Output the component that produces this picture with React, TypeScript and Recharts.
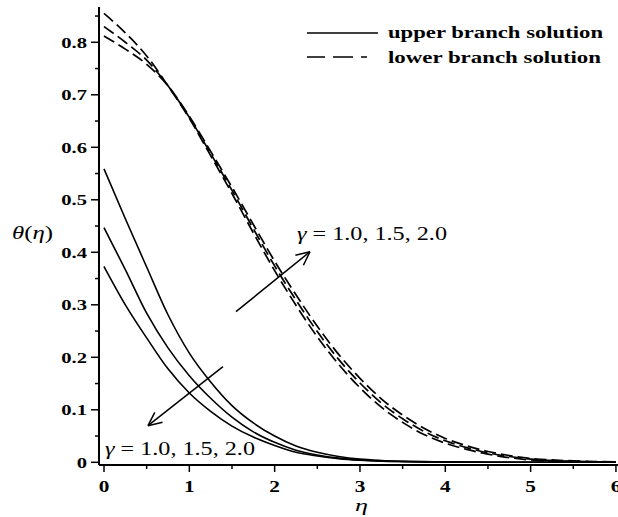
import React from 'react';
import { LineChart, Line, XAxis, YAxis, ReferenceLine, Legend, Customized } from 'recharts';

// ---- data ----
const etaValues = [0, 0.25, 0.5, 0.75, 1, 1.25, 1.5, 1.75, 2, 2.25, 2.5, 2.75, 3, 3.25, 3.5, 3.75, 4, 4.25, 4.5, 4.75, 5, 5.5, 6];

// upper branch (solid)
const upperGamma10 = [0.559, 0.464, 0.372, 0.281, 0.208, 0.153, 0.108, 0.075, 0.050, 0.031, 0.019, 0.011, 0.006, 0.0035, 0.002, 0.0012, 0.0007, 0.0004, 0.0002, 0.0001, 0.0001, 0, 0];
const upperGamma15 = [0.447, 0.367, 0.284, 0.218, 0.165, 0.122, 0.086, 0.058, 0.038, 0.023, 0.014, 0.008, 0.0045, 0.0025, 0.0015, 0.0009, 0.0005, 0.0003, 0.0002, 0.0001, 0, 0, 0];
const upperGamma20 = [0.373, 0.300, 0.237, 0.178, 0.132, 0.097, 0.069, 0.048, 0.032, 0.019, 0.012, 0.007, 0.004, 0.0022, 0.0013, 0.0007, 0.0004, 0.0002, 0.0001, 0, 0, 0, 0];

// lower branch (dashed)
const lowerGamma10 = [0.855, 0.818, 0.774, 0.717, 0.655, 0.584, 0.512, 0.437, 0.365, 0.299, 0.239, 0.1865, 0.142, 0.105, 0.076, 0.053, 0.0365, 0.0245, 0.0155, 0.009, 0.0045, 0.0013, 0.0002];
const lowerGamma15 = [0.830, 0.800, 0.766, 0.717, 0.657, 0.588, 0.518, 0.445, 0.374, 0.309, 0.249, 0.196, 0.151, 0.113, 0.083, 0.059, 0.041, 0.028, 0.018, 0.011, 0.006, 0.002, 0.0005];
const lowerGamma20 = [0.812, 0.787, 0.758, 0.717, 0.659, 0.592, 0.524, 0.453, 0.383, 0.319, 0.259, 0.2055, 0.160, 0.121, 0.090, 0.065, 0.0455, 0.0315, 0.0205, 0.013, 0.0075, 0.0027, 0.0008];

const xTicks = [0, 0.5, 1, 1.5, 2, 2.5, 3, 3.5, 4, 4.5, 5, 5.5, 6];
const yTicks = [0, 0.05, 0.1, 0.15, 0.2, 0.25, 0.3, 0.35, 0.4, 0.45, 0.5, 0.55, 0.6, 0.65, 0.7, 0.75, 0.8, 0.85];

const legendLabels = ['upper branch solution', 'lower branch solution'];
const gammaText = ' = 1.0, 1.5, 2.0';

// annotation arrows in data coordinates [eta, theta]
const arrowUpperBranch = { from: [1.3945, 0.1821], tip: [0.5156, 0.0697], headA: [0.6867, 0.0762], headB: [0.5953, 0.0952] };
const arrowLowerBranch = { from: [1.547, 0.2869], tip: [2.414, 0.4011], headA: [2.337, 0.3754], headB: [2.243, 0.3943] };

const tableData = etaValues.map((eta, i) => ({
  eta,
  u1: upperGamma10[i],
  u2: upperGamma15[i],
  u3: upperGamma20[i],
  l1: lowerGamma10[i],
  l2: lowerGamma15[i],
  l3: lowerGamma20[i],
}));

const FONT = "'Liberation Serif', 'Times New Roman', serif";
const X_DOMAIN: [number, number] = [-0.0586, 6.024];
const Y_DOMAIN: [number, number] = [-0.00514, 0.8672];

function XTick(props: any) {
  const { x, y, payload } = props;
  const v = payload.value as number;
  const major = Math.abs(v - Math.round(v)) < 1e-6;
  return (
    <g>
      <line x1={x} y1={y} x2={x} y2={y + (major ? 7 : 4)} stroke="#000" strokeWidth={1.5} />
      {major && (
        <g transform={`translate(${x},${y + 27}) scale(1.33,1)`}>
          <text x={0} y={0} textAnchor="middle" fontSize={16} fontWeight="bold" fontFamily={FONT} fill="#000">
            {String(v)}
          </text>
        </g>
      )}
    </g>
  );
}

function YTick(props: any) {
  const { x, y, payload } = props;
  const v = payload.value as number;
  const major = Math.abs(v * 10 - Math.round(v * 10)) < 1e-6;
  const label = v === 0 ? '0' : v.toFixed(1);
  return (
    <g>
      <line x1={x - (major ? 8 : 4)} y1={y} x2={x} y2={y} stroke="#000" strokeWidth={1.5} />
      {major && (
        <g transform={`translate(${x - 12},${y + 5.5}) scale(1.33,1)`}>
          <text x={0} y={0} textAnchor="end" fontSize={15.5} fontWeight="bold" fontFamily={FONT} fill="#000">
            {label}
          </text>
        </g>
      )}
    </g>
  );
}

function LegendBox() {
  return (
    <svg width={618} height={80} style={{ display: 'block' }}>
      <line x1={307} y1={33} x2={378} y2={33} stroke="#000" strokeWidth={1.6} />
      <text x={388} y={37.5} fontSize={17} fontWeight="bold" fontFamily={FONT} textLength={215} lengthAdjust="spacingAndGlyphs" fill="#000">
        {legendLabels[0]}
      </text>
      <line x1={307} y1={57} x2={378} y2={57} stroke="#000" strokeWidth={1.6} strokeDasharray="18 8 20 8 6 30" />
      <text x={388} y={62.5} fontSize={17} fontWeight="bold" fontFamily={FONT} textLength={213} lengthAdjust="spacingAndGlyphs" fill="#000">
        {legendLabels[1]}
      </text>
    </svg>
  );
}

function GammaLabel({ x, y }: { x: number; y: number }) {
  return (
    <text x={x} y={y} fontSize={18} fontFamily={FONT} textLength={150} lengthAdjust="spacingAndGlyphs" fill="#000">
      <tspan fontStyle="italic">γ</tspan>
      {gammaText}
    </text>
  );
}

function Overlay() {
  return (
    <g>
      <GammaLabel x={297} y={240} />
      <GammaLabel x={105} y={454.5} />
      <text x={12} y={239} fontSize={18} fontFamily={FONT} textLength={41} lengthAdjust="spacingAndGlyphs" fill="#000">
        <tspan fontStyle="italic">θ</tspan>(<tspan fontStyle="italic">η</tspan>)
      </text>
      <text x={355} y={511} fontSize={17} fontStyle="italic" fontFamily={FONT} textLength={13} lengthAdjust="spacingAndGlyphs" fill="#000">
        η
      </text>
    </g>
  );
}

function arrowSegments(a: { from: number[]; tip: number[]; headA: number[]; headB: number[] }) {
  const seg = (p: number[], q: number[]) => [{ x: p[0], y: p[1] }, { x: q[0], y: q[1] }];
  return [seg(a.from, a.tip), seg(a.tip, a.headA), seg(a.tip, a.headB)];
}

export default function App() {
  const segments = [...arrowSegments(arrowUpperBranch), ...arrowSegments(arrowLowerBranch)];
  return (
    <div style={{ position: 'absolute', left: 0, top: 0, width: 618, height: 517, background: '#fff' }}>
      <LineChart width={618} height={517} data={tableData} margin={{ top: 7, right: 0, bottom: 0, left: 0 }}>
        <XAxis
          dataKey="eta"
          type="number"
          domain={X_DOMAIN}
          allowDataOverflow
          ticks={xTicks}
          interval={0}
          tick={<XTick />}
          tickLine={false}
          tickSize={0}
          tickMargin={0}
          axisLine={{ stroke: '#000', strokeWidth: 2 }}
          height={52}
        />
        <XAxis
          xAxisId="top"
          orientation="top"
          dataKey="eta"
          type="number"
          domain={X_DOMAIN}
          allowDataOverflow
          tick={false}
          tickLine={false}
          axisLine={{ stroke: '#000', strokeWidth: 1.5 }}
          height={0}
        />
        <YAxis
          type="number"
          domain={Y_DOMAIN}
          allowDataOverflow
          ticks={yTicks}
          interval={0}
          tick={<YTick />}
          tickLine={false}
          tickSize={0}
          tickMargin={0}
          axisLine={{ stroke: '#000', strokeWidth: 2 }}
          width={99}
        />
        <Legend
          verticalAlign="middle"
          align="center"
          content={() => <LegendBox />}
          wrapperStyle={{ position: 'absolute', left: 0, top: 0, width: 618, height: 80 }}
        />
        <Line type="monotone" dataKey="u1" stroke="#000" strokeWidth={1.6} dot={false} isAnimationActive={false} />
        <Line type="monotone" dataKey="u2" stroke="#000" strokeWidth={1.6} dot={false} isAnimationActive={false} />
        <Line type="monotone" dataKey="u3" stroke="#000" strokeWidth={1.6} dot={false} isAnimationActive={false} />
        <Line type="monotone" dataKey="l1" stroke="#000" strokeWidth={1.7} strokeDasharray="12 5" dot={false} isAnimationActive={false} />
        <Line type="monotone" dataKey="l2" stroke="#000" strokeWidth={1.7} strokeDasharray="12 5" dot={false} isAnimationActive={false} />
        <Line type="monotone" dataKey="l3" stroke="#000" strokeWidth={1.7} strokeDasharray="12 5" dot={false} isAnimationActive={false} />
        {segments.map((s, i) => (
          <ReferenceLine key={i} segment={s} stroke="#000" strokeWidth={1.5} ifOverflow="visible" />
        ))}
        <Customized component={Overlay} />
      </LineChart>
    </div>
  );
}
